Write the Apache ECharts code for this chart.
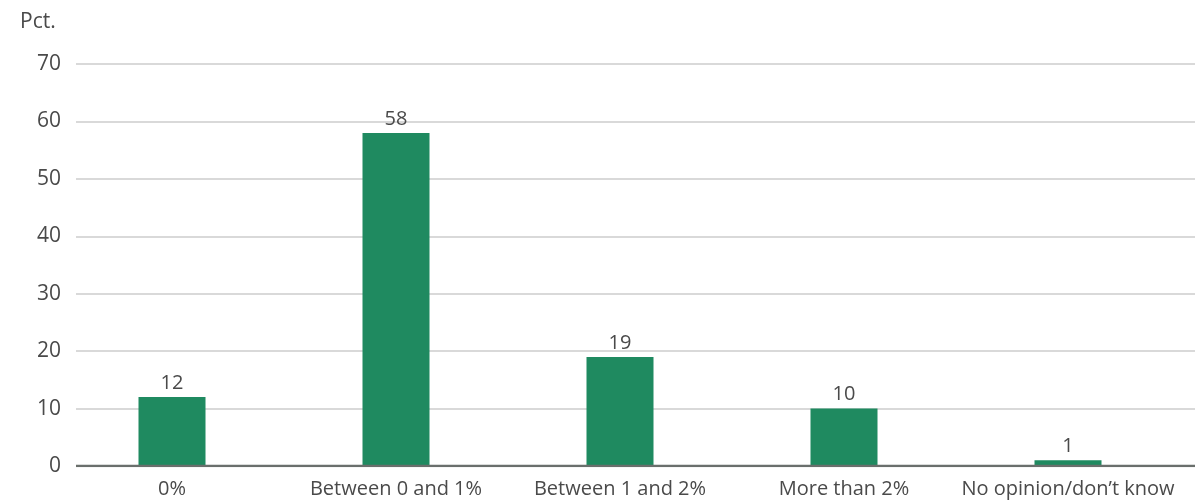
<!DOCTYPE html>
<html>
<head>
<meta charset="utf-8">
<script src="https://cdn.jsdelivr.net/npm/echarts@6/dist/echarts.min.js"></script>
<style>
  html, body { margin: 0; padding: 0; background: #fff; }
  #chart { width: 1195px; height: 504px; }
</style>
</head>
<body>
<div id="chart"></div>
<script>
let categories = ['0%', 'Between 0 and 1%', 'Between 1 and 2%', 'More than 2%', 'No opinion/don\u2019t know'];
let values = [12, 58, 19, 10, 1];
let yTicks = [0, 10, 20, 30, 40, 50, 60, 70];

let barColor = '#1f8a60';
let textColor = '#4a4a4a';
let font = '"Open Sans", sans-serif';

let chart = echarts.init(document.getElementById('chart'));

let option = {
    animation: false,
    title: {
        text: 'Pct.',
        left: 15,
        top: 7,
        textStyle: { fontSize: 21, fontWeight: 'normal', color: textColor, fontFamily: font }
    },
    grid: [
        // background grid: y labels and grid lines
        { left: 76, right: 0, top: 64, bottom: 38 },
        // bars
        { left: 60, right: 15, top: 64, bottom: 38 }
    ],
    xAxis: [
        { gridIndex: 0, type: 'value', show: false, min: 0, max: 1 },
        {
            gridIndex: 1,
            type: 'category',
            data: categories,
            axisLine: { show: false },
            axisTick: { show: false },
            axisLabel: { color: textColor, fontSize: 20, margin: 13, fontFamily: font, interval: 0 }
        }
    ],
    yAxis: [
        {
            gridIndex: 0,
            type: 'value',
            min: yTicks[0],
            max: yTicks[yTicks.length - 1],
            interval: 10,
            axisLine: { show: false },
            axisTick: { show: false },
            axisLabel: { color: textColor, fontSize: 21, margin: 15, fontFamily: font },
            splitLine: { lineStyle: { width: 1.5, color: '#cccccc' } }
        },
        {
            gridIndex: 1,
            type: 'value',
            min: yTicks[0],
            max: yTicks[yTicks.length - 1],
            interval: 10,
            show: false,
            splitLine: { show: false }
        }
    ],
    series: [
        {
            // zero baseline across the background grid
            type: 'line',
            xAxisIndex: 0,
            yAxisIndex: 0,
            data: [[0, 0], [1, 0]],
            symbol: 'none',
            lineStyle: { color: '#6a6f6c', width: 2.5 },
            silent: true,
            z: 3
        },
        {
            type: 'bar',
            xAxisIndex: 1,
            yAxisIndex: 1,
            data: values,
            barWidth: 67,
            itemStyle: { color: barColor },
            label: {
                show: true,
                position: 'top',
                distance: 4,
                color: textColor,
                fontSize: 20,
                fontFamily: font
            },
            z: 2
        }
    ]
};

chart.setOption(option);
</script>
</body>
</html>
